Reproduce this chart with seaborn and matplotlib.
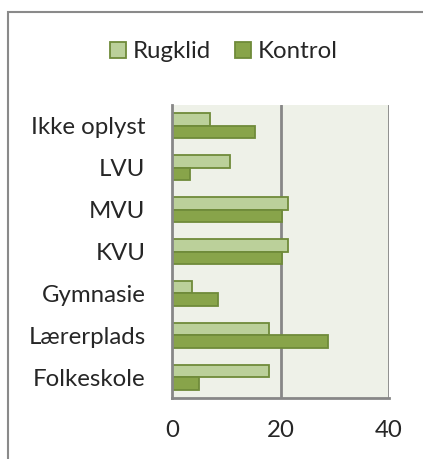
import seaborn as sns
import pandas as pd
import matplotlib.pyplot as plt
from matplotlib.patches import Rectangle

categories = ['Ikke oplyst', 'LVU', 'MVU', 'KVU', 'Gymnasie', 'Lærerplads', 'Folkeskole']
rugklid = [7.0, 10.6, 21.4, 21.4, 3.6, 17.9, 17.9]
kontrol = [15.3, 3.3, 20.3, 20.3, 8.5, 28.8, 5.0]
series = ['Rugklid', 'Kontrol']
x_ticks = [0, 20, 40]

df = pd.DataFrame({
    'kategori': categories * 2,
    'gruppe': [series[0]] * len(categories) + [series[1]] * len(categories),
    'værdi': rugklid + kontrol,
})

sns.set_style('white')
plt.rcParams['font.family'] = ['Lato', 'DejaVu Sans']
fs = 17.3

fig = plt.figure(figsize=(4.23, 4.59), dpi=100)
ax = fig.add_axes([172 / 423, 1 - 398 / 459, 217 / 423, 293 / 459])
ax.set_facecolor('#eef1e8')

palette = {'Rugklid': '#bbd09a', 'Kontrol': '#88a44a'}
sns.barplot(data=df, y='kategori', x='værdi', hue='gruppe', order=categories,
            hue_order=series, palette=palette, width=0.6, saturation=1,
            edgecolor='#6f8b3a', linewidth=1.3, ax=ax, legend=False)

ax.set_xlim(0, 40)
ax.set_xticks(x_ticks)
ax.set_xlabel('')
ax.set_ylabel('')
ax.set_ylim(len(categories) - 0.5, -0.5)

grid_col = '#878787'
for v in x_ticks[1:]:
    ax.axvline(v, color=grid_col, lw=2, zorder=0.5)
for s in ['top', 'right']:
    ax.spines[s].set_visible(False)
for s in ['left', 'bottom']:
    ax.spines[s].set_color(grid_col)
    ax.spines[s].set_linewidth(2)

ax.tick_params(axis='y', which='major', length=0, pad=19, labelsize=fs)
ax.set_yticks([i - 0.5 for i in range(len(categories) + 1)], minor=True)
ax.tick_params(axis='y', which='minor', length=6, width=2, color=grid_col, direction='out')
ax.tick_params(axis='x', which='major', length=5, width=2, color=grid_col, direction='out',
               pad=11, labelsize=fs)

handles = [Rectangle((0, 0), 1, 1, facecolor=palette[s], edgecolor='#6f8b3a', lw=1.3) for s in series]
fig.legend(handles, series, loc='center', bbox_to_anchor=(224 / 423, 1 - 52 / 459),
           ncol=2, frameon=False, fontsize=fs, handlelength=0.65, handleheight=0.65,
           handletextpad=0.3, columnspacing=1.0, borderpad=0)

fig.patches.append(Rectangle((8 / 423, -0.1), 1.1, 1 - 12 / 459 + 0.1, transform=fig.transFigure,
                             fill=False, edgecolor='#8a8a8a', lw=1.5, zorder=-1))

fig.savefig('out.png', dpi=100)
